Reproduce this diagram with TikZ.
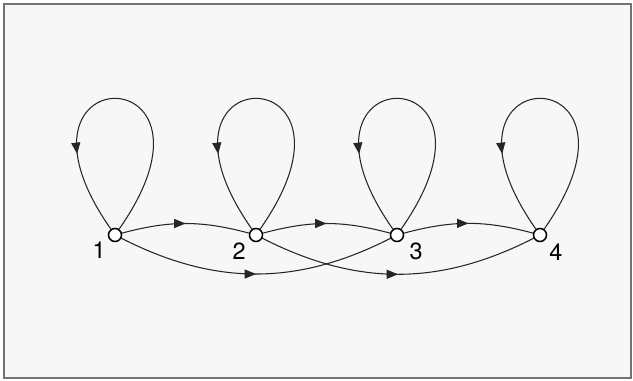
\documentclass[tikz,border=0pt]{standalone}
\usepackage{fontspec}
\setmainfont{TeX Gyre Heros}
\usetikzlibrary{positioning, arrows.meta, decorations.markings}
\tikzset{
    x=0.3mm, y=0.3mm,
    state/.style={circle, draw=black, line width=1.3pt, fill=white, inner sep=0pt, minimum size=3.9mm},
    num/.style={inner sep=0pt, font=\fontsize{20}{22}\selectfont},
    arc/.style={draw=black!85, line width=0.9pt, postaction={decorate},
        decoration={markings, mark=at position #1 with {\arrow{Triangle[length=3.4mm,width=2.7mm]}}}},
    arc/.default=0.5
}

\begin{document}
\begin{tikzpicture}
    \useasboundingbox (0,0) rectangle (633,381);
    \fill[white] (0,0) rectangle (633,381);
    \filldraw[fill=black!3, draw=black!55, line width=1pt] (4,3) rectangle (631,377);

    \node[state] (n1) at (115,146) {};
    \node[state] (n2) at (256,146) {};
    \node[state] (n3) at (397,146) {};
    \node[state] (n4) at (540,146) {};
    \node[num, below left=0.5mm and 1.2mm of n1] (t1) {1};
    \node[num, below left=0.9mm and 1.5mm of n2] (t2) {2};
    \node[num, below right=0.9mm and 2.2mm of n3] (t3) {3};
    \node[num, below right=1mm and 1.2mm of n4] (t4) {4};

    % loops
    \draw[arc=0.74] (n1) .. controls +(55:220) and +(125:220) .. (n1);
    \draw[arc=0.74] (n2) .. controls +(55:220) and +(125:220) .. (n2);
    \draw[arc=0.74] (n3) .. controls +(55:220) and +(125:220) .. (n3);
    \draw[arc=0.74] (n4) .. controls +(55:220) and +(125:220) .. (n4);

    % one step
    \draw[arc] (n1) to[bend left=15] (n2);
    \draw[arc] (n2) to[bend left=15] (n3);
    \draw[arc] (n3) to[bend left=15] (n4);

    % two steps
    \draw[arc] (n1) to[bend right=27] (n3);
    \draw[arc] (n2) to[bend right=27] (n4);
\end{tikzpicture}
\end{document}
